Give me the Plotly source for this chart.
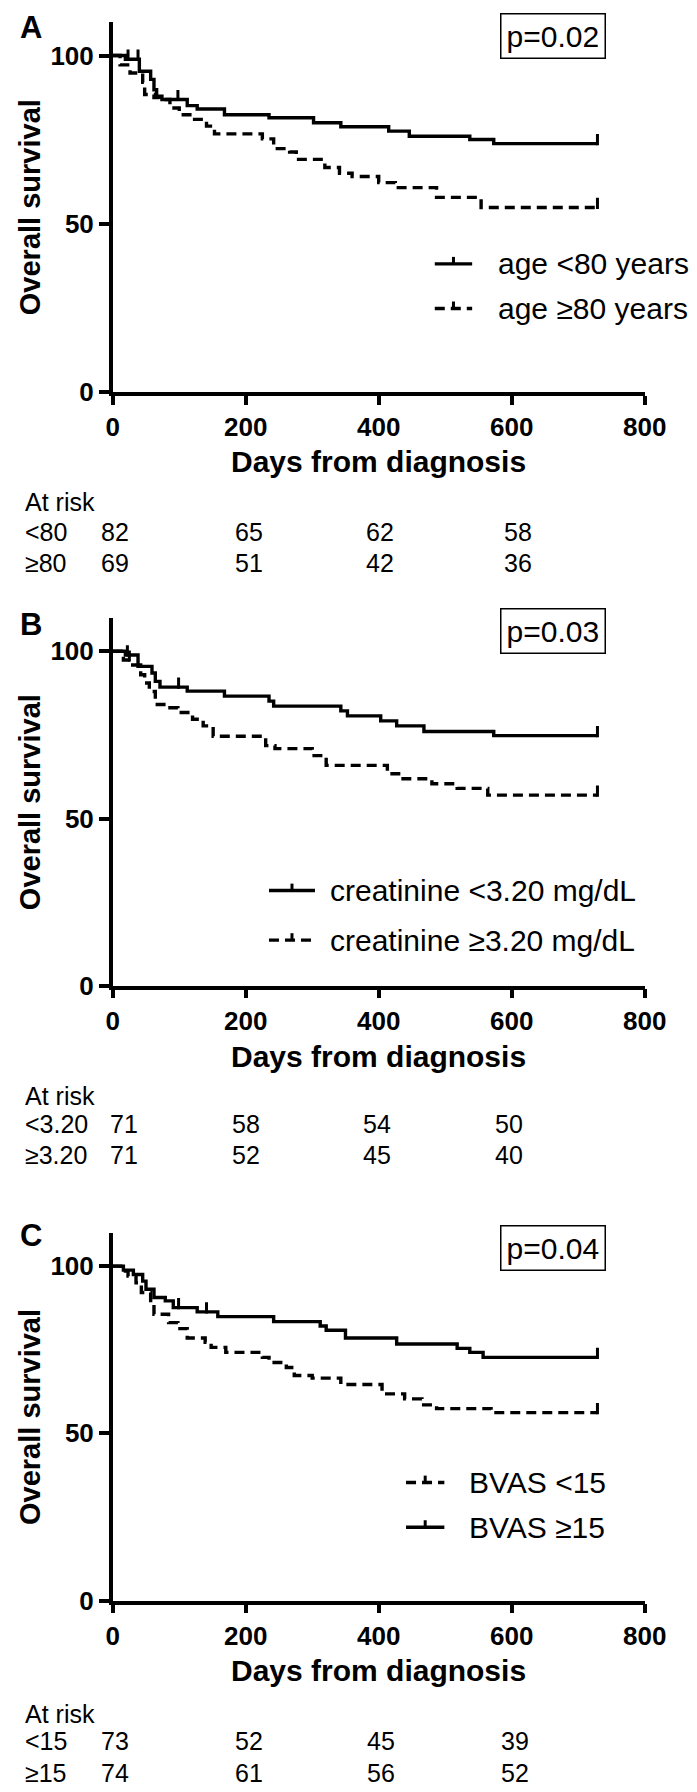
import plotly.graph_objects as go

# ---------------- data ----------------
# Panel A: age
A_lt80_days = [0, 19, 40, 57, 62, 66, 74, 112, 127, 168, 235, 302, 343, 415, 446, 537, 573, 729]
A_lt80_surv = [100, 98.9, 95.3, 92.9, 89.8, 87.9, 86.9, 85.1, 84.1, 82.4, 81.5, 80.0, 78.8, 77.5, 76.0, 75.0, 73.8, 73.8]
A_lt80_cens = [23, 38, 98, 729]
A_ge80_days = [0, 11, 26, 45, 48, 62, 70, 86, 100, 120, 141, 153, 225, 242, 266, 276, 319, 341, 360, 400, 425, 487, 554, 729]
A_ge80_surv = [100, 97.2, 94.8, 92.0, 88.4, 87.5, 86.9, 84.4, 82.4, 81.0, 79.0, 76.7, 75.2, 72.3, 71.3, 69.1, 66.7, 65.0, 64.0, 62.2, 60.7, 57.8, 54.8, 54.8]
A_ge80_cens = [729]

# Panel B: creatinine
B_lt_days = [0, 19, 38, 59, 64, 71, 112, 168, 235, 242, 343, 353, 403, 427, 468, 573, 729]
B_lt_surv = [100, 98.9, 95.5, 93.5, 91.0, 89.3, 88.1, 86.6, 85.1, 83.6, 82.2, 80.7, 79.2, 77.7, 76.0, 74.8, 74.8]
B_lt_cens = [22, 99, 729]
B_ge_days = [0, 16, 30, 42, 48, 55, 64, 83, 98, 120, 136, 151, 230, 244, 300, 321, 413, 434, 480, 518, 564, 729]
B_ge_surv = [100, 97.4, 95.9, 93.0, 90.5, 88.0, 84.1, 83.1, 81.7, 79.7, 77.7, 74.6, 71.8, 70.9, 68.8, 65.9, 63.4, 61.9, 60.4, 59.0, 57.0, 57.0]
B_ge_cens = [25, 729]

# Panel C: BVAS
C_ge15_days = [0, 16, 31, 45, 50, 62, 79, 91, 127, 158, 242, 312, 321, 350, 427, 518, 537, 557, 729]
C_ge15_surv = [100, 98.8, 97.5, 95.5, 93.1, 90.6, 89.6, 87.6, 86.3, 84.9, 83.4, 82.1, 80.8, 78.5, 76.7, 75.4, 74.2, 72.7, 72.7]
C_ge15_cens = [99, 141, 729]
C_lt15_days = [0, 12, 23, 35, 43, 57, 62, 84, 98, 112, 139, 148, 170, 225, 235, 261, 273, 300, 343, 405, 439, 465, 487, 569, 729]
C_lt15_surv = [100, 98.5, 97.0, 95.0, 92.1, 89.1, 85.6, 83.1, 81.3, 78.5, 77.2, 75.7, 74.2, 72.7, 71.2, 69.7, 67.3, 66.5, 64.6, 61.8, 60.3, 58.5, 57.4, 56.2, 56.2]
C_lt15_cens = [729]

p_values = ["p=0.02", "p=0.03", "p=0.04"]
panel_letters = ["A", "B", "C"]
x_ticks = [0, 200, 400, 600, 800]
y_ticks = [0, 50, 100]

risk_row_labels = [["<80", "≥80"], ["<3.20", "≥3.20"], ["<15", "≥15"]]
risk_values = [
    [[82, 65, 62, 58], [69, 51, 42, 36]],
    [[71, 58, 54, 50], [71, 52, 45, 40]],
    [[73, 52, 45, 39], [74, 61, 56, 52]],
]

# ---------------- layout constants (pixels) ----------------
W, H = 697, 1792
X0, X1 = 102, 657
panel_top = [14, 615, 1235]
panel_bot = [387, 986, 1606]
FONT = "Liberation Sans, Arial, sans-serif"
BLACK = "#000000"


def px(x):
    return x / W


def py(y):
    return 1 - y / H


def step_value(days, surv, t):
    v = surv[0]
    for d, s in zip(days, surv):
        if d <= t:
            v = s
    return v


panels = [
    [("solid", A_lt80_days, A_lt80_surv, A_lt80_cens, "age <80 years"),
     ("dash", A_ge80_days, A_ge80_surv, A_ge80_cens, "age ≥80 years")],
    [("solid", B_lt_days, B_lt_surv, B_lt_cens, "creatinine <3.20 mg/dL"),
     ("dash", B_ge_days, B_ge_surv, B_ge_cens, "creatinine ≥3.20 mg/dL")],
    [("dash", C_lt15_days, C_lt15_surv, C_lt15_cens, "BVAS <15"),
     ("solid", C_ge15_days, C_ge15_surv, C_ge15_cens, "BVAS ≥15")],
]

legend_pos = [  # line x0, x1, text x, row y1, row y2
    (438, 477, 502, 258, 303),
    (265, 313, 327, 890, 940),
    (408, 448, 472, 1487, 1532),
]
pbox_center = [(561, 28), (561, 628), (561, 1250)]
letter_pos = [(17, 20), (17, 622), (17, 1238)]
xtitle_y = [457, 1057, 1677]
risk_y = [(498, 528, 560), (1097, 1125, 1157), (1720, 1748, 1780)]
risk_cols = [[104, 244, 381, 525], [114, 241, 378, 515], [104, 244, 382, 522]]

DASH = "10px,6px"

fig = go.Figure()
annotations = []
shapes = []
layout_axes = {}

for i, series in enumerate(panels):
    xa = "x" if i == 0 else f"x{i+1}"
    ya = "y" if i == 0 else f"y{i+1}"
    for style, days, surv, cens, name in series:
        fig.add_trace(go.Scatter(
            x=days, y=surv, mode="lines", line_shape="hv",
            line=dict(color=BLACK, width=3.4, dash=("solid" if style == "solid" else DASH)),
            xaxis=xa, yaxis=ya, showlegend=False, name=name, hoverinfo="skip"))
        cy = [step_value(days, surv, c) + 1.2 for c in cens]
        fig.add_trace(go.Scatter(
            x=cens, y=cy, mode="markers",
            marker=dict(symbol="line-ns", size=8, line=dict(color=BLACK, width=3)),
            xaxis=xa, yaxis=ya, showlegend=False, hoverinfo="skip"))

    xkey = "xaxis" if i == 0 else f"xaxis{i+1}"
    ykey = "yaxis" if i == 0 else f"yaxis{i+1}"
    layout_axes[xkey] = dict(
        domain=[px(X0), px(X1)], range=[0, 800], anchor=ya,
        tickvals=x_ticks, ticks="outside", ticklen=9, tickwidth=3.5, tickcolor=BLACK,
        showline=True, linewidth=3.5, linecolor=BLACK, showgrid=False, zeroline=False,
        tickfont=dict(family=FONT, size=26, color=BLACK, weight="bold"), fixedrange=True)
    layout_axes[ykey] = dict(
        domain=[py(panel_bot[i]), py(panel_top[i])], range=[0, 110], anchor=xa,
        tickvals=y_ticks, ticks="outside", ticklen=10, tickwidth=3.5, tickcolor=BLACK,
        showline=True, linewidth=3.5, linecolor=BLACK, showgrid=False, zeroline=False,
        tickfont=dict(family=FONT, size=26, color=BLACK, weight="bold"), fixedrange=True)

    # panel letter
    lx, ly = letter_pos[i]
    annotations.append(dict(text=panel_letters[i], x=px(lx), y=py(ly), xref="paper", yref="paper",
                            showarrow=False, xanchor="center", yanchor="middle",
                            font=dict(family=FONT, size=31, color=BLACK, weight="bold")))
    # y title
    annotations.append(dict(text="Overall survival", x=px(15), y=py((panel_top[i] + panel_bot[i]) / 2),
                            xref="paper", yref="paper", showarrow=False, textangle=-90,
                            xanchor="center", yanchor="middle",
                            font=dict(family=FONT, size=29, color=BLACK, weight="bold")))
    # x title
    annotations.append(dict(text="Days from diagnosis", x=px((X0 + X1) / 2), y=py(xtitle_y[i]),
                            xref="paper", yref="paper", showarrow=False,
                            xanchor="center", yanchor="middle",
                            font=dict(family=FONT, size=30, color=BLACK, weight="bold")))
    # p value box
    bx, by = pbox_center[i]
    annotations.append(dict(text=p_values[i], x=px(bx), y=py(by), xref="paper", yref="paper",
                            showarrow=False, xanchor="center", yanchor="middle",
                            bordercolor=BLACK, borderwidth=1.5, borderpad=5, bgcolor="white",
                            font=dict(family=FONT, size=30, color=BLACK)))
    # legend
    lx0, lx1, tx, r1, r2 = legend_pos[i]
    for (style, _, _, _, name), ry in zip(series, (r1, r2)):
        shapes.append(dict(type="line", xref="paper", yref="paper",
                           x0=px(lx0), x1=px(lx1), y0=py(ry), y1=py(ry),
                           line=dict(color=BLACK, width=3.4, dash=("solid" if style == "solid" else DASH))))
        mx = (lx0 + lx1) / 2
        shapes.append(dict(type="line", xref="paper", yref="paper",
                           x0=px(mx), x1=px(mx), y0=py(ry), y1=py(ry - 7),
                           line=dict(color=BLACK, width=3)))
        annotations.append(dict(text=name, x=px(tx), y=py(ry), xref="paper", yref="paper",
                                showarrow=False, xanchor="left", yanchor="middle",
                                font=dict(family=FONT, size=30, color=BLACK)))
    # at risk table
    ry0, ry1, ry2 = risk_y[i]
    annotations.append(dict(text="At risk", x=px(8), y=py(ry0), xref="paper", yref="paper",
                            showarrow=False, xanchor="left", yanchor="middle",
                            font=dict(family=FONT, size=25, color=BLACK)))
    for lab, vals, ry in zip(risk_row_labels[i], risk_values[i], (ry1, ry2)):
        annotations.append(dict(text=lab, x=px(8), y=py(ry), xref="paper", yref="paper",
                                showarrow=False, xanchor="left", yanchor="middle",
                                font=dict(family=FONT, size=25, color=BLACK)))
        for v, cx in zip(vals, risk_cols[i]):
            annotations.append(dict(text=str(v), x=px(cx), y=py(ry), xref="paper", yref="paper",
                                    showarrow=False, xanchor="center", yanchor="middle",
                                    font=dict(family=FONT, size=25, color=BLACK)))

fig.update_layout(
    width=W, height=H, margin=dict(l=0, r=0, t=0, b=0),
    paper_bgcolor="white", plot_bgcolor="white",
    annotations=annotations, shapes=shapes, showlegend=False,
    font=dict(family=FONT, color=BLACK),
    **layout_axes,
)

fig.write_html("out.html")
